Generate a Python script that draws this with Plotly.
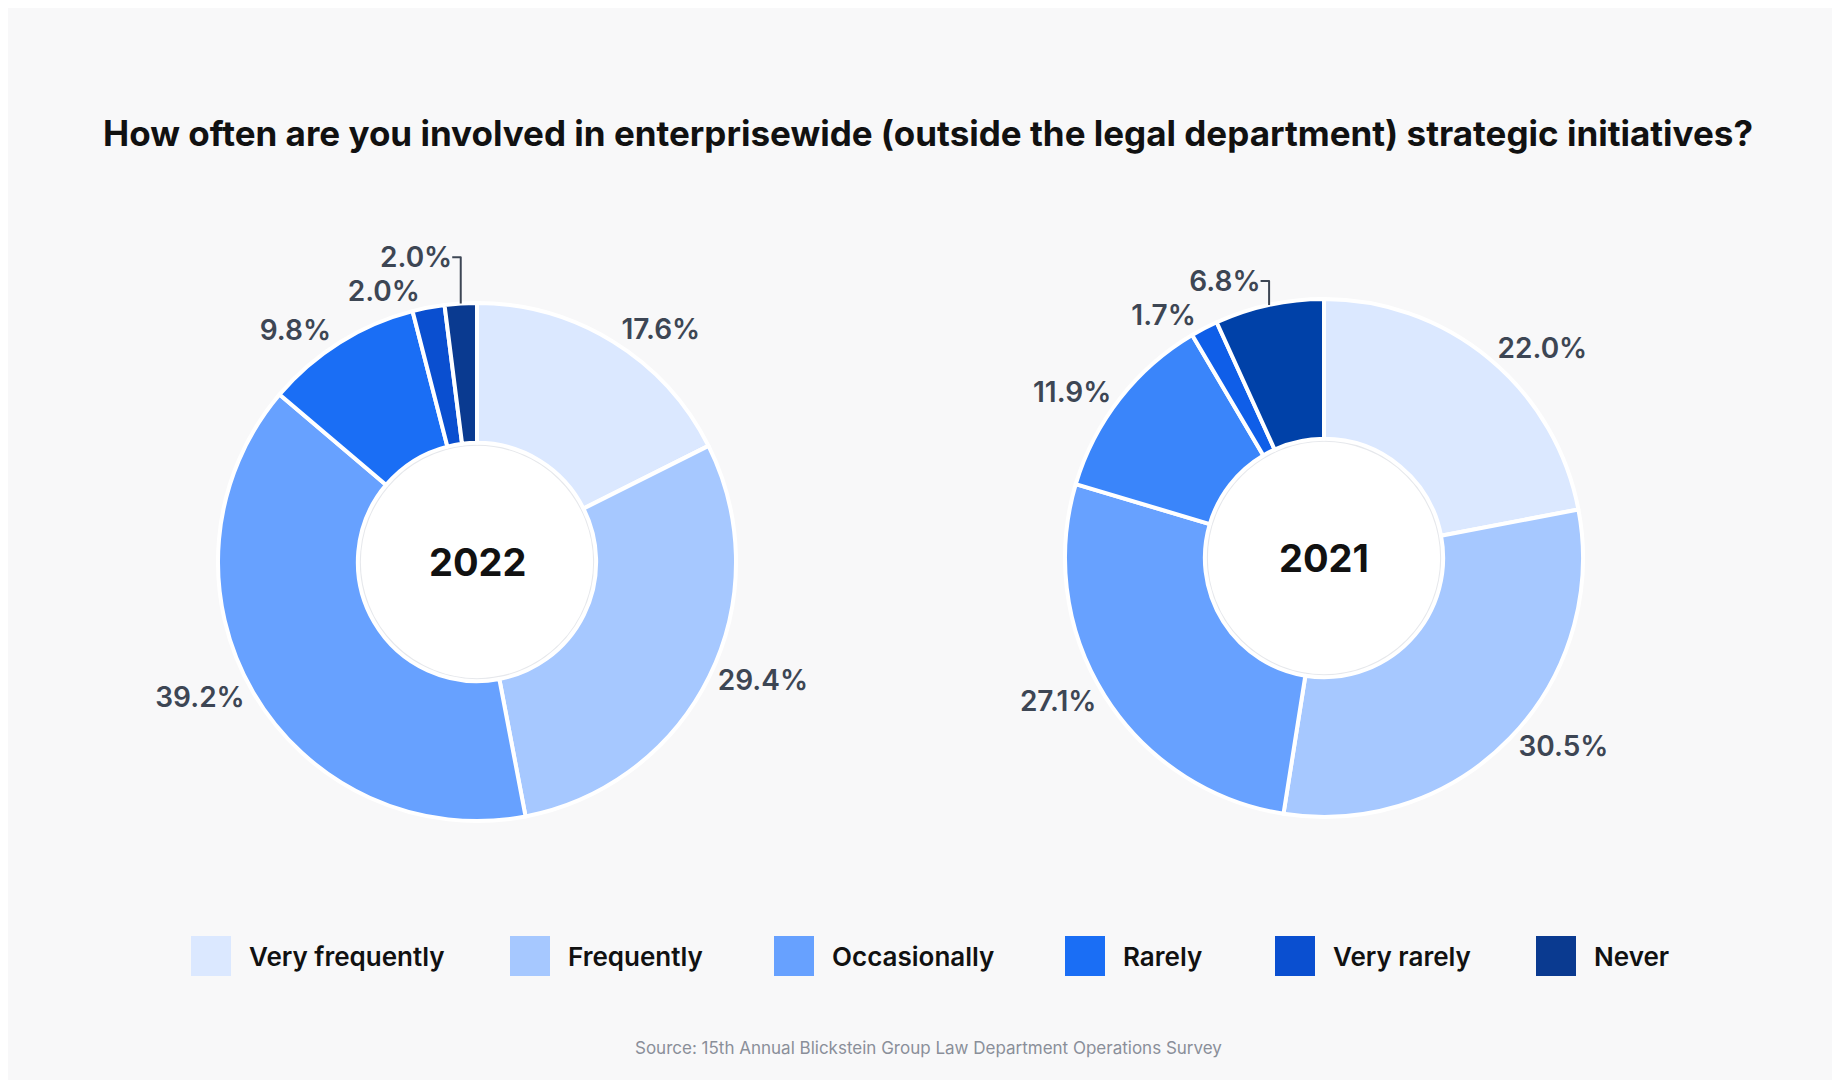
import plotly.graph_objects as go

categories = ["Very frequently", "Frequently", "Occasionally", "Rarely", "Very rarely", "Never"]
values_2022 = [17.6, 29.4, 39.2, 9.8, 2.0, 2.0]
values_2021 = [22.0, 30.5, 27.1, 11.9, 1.7, 6.8]
colors_2022 = ["#dbe8ff", "#a6c8ff", "#67a1ff", "#1a6ef5", "#0a4fd0", "#0a3a90"]
colors_2021 = ["#dbe8ff", "#a6c8ff", "#67a1ff", "#3a85fa", "#0f5ee8", "#0041a8"]
legend_x_px = [183, 502, 766, 1057, 1267, 1528]

W, H = 1840, 1080
fig = go.Figure()
pies = [(values_2022, colors_2022, 469, 554, "2022"), (values_2021, colors_2021, 1316, 550, "2021")]
R = 259
hole = 0.46
for vals, cols, cx, cy, yr in pies:
    fig.add_trace(go.Pie(
        labels=categories, values=vals, sort=False, direction="clockwise", rotation=0,
        hole=hole, marker=dict(colors=cols, line=dict(color="white", width=4)),
        texttemplate="%{value:.1f}%", textposition="outside",
        textfont=dict(size=28, color="#3d4654", family="Inter", weight=600),
        domain=dict(x=[(cx - R) / W, (cx + R) / W], y=[1 - (cy + R) / H, 1 - (cy - R) / H]),
        hoverinfo="label+value", showlegend=False,
    ))
    r = hole * R
    fig.add_shape(type="circle", xref="paper", yref="paper", layer="below",
                  x0=(cx - r) / W, x1=(cx + r) / W, y0=1 - (cy + r) / H, y1=1 - (cy - r) / H,
                  fillcolor="white", line=dict(color="#e6e8ec", width=6))
    fig.add_annotation(x=cx / W, y=1 - cy / H, xref="paper", yref="paper", text="<b>%s</b>" % yr,
                       xanchor="center", yanchor="middle",
                       showarrow=False, font=dict(size=38, color="#111", family="Inter"))

# manual legend
legend_colors = colors_2022
ly = 1 - 948 / H
s = 40
for name, col, lx in zip(categories, legend_colors, legend_x_px):
    fig.add_shape(type="rect", xref="paper", yref="paper",
                  x0=lx / W, x1=(lx + s) / W, y0=ly - s / 2 / H, y1=ly + s / 2 / H,
                  fillcolor=col, line=dict(width=0))
    fig.add_annotation(x=(lx + s + 16) / W, y=ly, xref="paper", yref="paper", text=name,
                       xanchor="left", yanchor="middle", showarrow=False,
                       font=dict(size=26, color="#111", family="Inter", weight=600))

fig.add_annotation(x=0.5, y=1 - 125 / H, xref="paper", yref="paper", showarrow=False,
                   xanchor="center", yanchor="middle",
                   text="<b>How often are you involved in enterprisewide (outside the legal department) strategic initiatives?</b>",
                   font=dict(size=35, color="#111", family="Inter"))
fig.add_annotation(x=0.5, y=1 - 1040 / H, xref="paper", yref="paper", showarrow=False,
                   xanchor="center", yanchor="middle",
                   text="Source: 15th Annual Blickstein Group Law Department Operations Survey",
                   font=dict(size=17, color="#8a8f99", family="Inter"))

fig.update_layout(
    width=W, height=H, margin=dict(l=0, r=0, t=0, b=0),
    paper_bgcolor="#f8f8f9", plot_bgcolor="#f8f8f9", showlegend=False,
)
fig.write_html("out.html")
